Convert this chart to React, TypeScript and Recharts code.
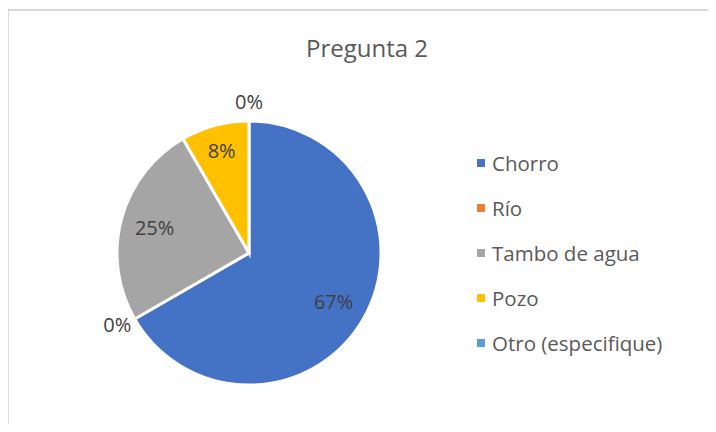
import { PieChart, Pie, Cell, Legend } from "recharts";

const categories = ["Chorro", "Río", "Tambo de agua", "Pozo", "Otro (especifique)"];
const values = [8, 0, 3, 1, 0];
const colors = ["#4472C4", "#ED7D31", "#A5A5A5", "#FFC000", "#5B9BD5"];

const data = categories.map((name, i) => ({ name, value: values[i] }));
const total = values.reduce((a, b) => a + b, 0);

const FONT = "'Open Sans', sans-serif";
const RAD = Math.PI / 180;

function renderLabel(props: any) {
  const { cx, cy, midAngle, outerRadius, value, index } = props;
  // small slices sit a bit further out, like Excel's best fit
  const share = value / total;
  const r = value === 0 ? outerRadius + 20 : outerRadius * (share < 0.1 ? 0.8 : 0.74);
  const x = cx + r * Math.cos(-midAngle * RAD);
  const y = cy + r * Math.sin(-midAngle * RAD) - (value === 0 && index === 1 ? 5 : 0);
  const pct = Math.round(share * 100);
  return (
    <text
      x={x}
      y={y}
      fill="#404040"
      fontSize={20}
      fontFamily={FONT}
      textAnchor="middle"
      dominantBaseline="central"
    >
      {pct}%
    </text>
  );
}

function LegendList() {
  return (
    <div style={{ fontFamily: FONT, fontSize: 20.5, color: "#595959" }}>
      {categories.map((c, i) => (
        <div key={c} style={{ display: "flex", alignItems: "center", height: 45 }}>
          <span
            style={{
              display: "inline-block",
              width: 8,
              height: 8,
              background: colors[i],
              marginRight: 7,
            }}
          />
          <span>{c}</span>
        </div>
      ))}
    </div>
  );
}

export default function App() {
  return (
    <div
      style={{
        position: "relative",
        width: 716,
        height: 432,
        margin: -8,
        overflow: "hidden",
        background: "#fff",
      }}
    >
      <div
        style={{
          position: "absolute",
          left: 7,
          top: 9,
          width: 740,
          height: 460,
          border: "2px solid #d9d9d9",
        }}
      />
      <div
        style={{
          position: "absolute",
          left: 0,
          width: 734,
          top: 31,
          textAlign: "center",
          fontFamily: FONT,
          fontSize: 24,
          color: "#595959",
        }}
      >
        Pregunta 2
      </div>
      <div style={{ position: "absolute", left: 0, top: 0 }}>
        <PieChart width={716} height={432} margin={{ top: 0, right: 0, bottom: 0, left: 0 }}>
          <Pie
            data={data}
            dataKey="value"
            nameKey="name"
            cx={249}
            cy={253}
            outerRadius={132}
            startAngle={90}
            endAngle={-270}
            stroke="#fff"
            strokeWidth={3}
            label={renderLabel}
            labelLine={false}
            isAnimationActive={false}
          >
            {data.map((d, i) => (
              <Cell key={d.name} fill={colors[i]} />
            ))}
          </Pie>
          <Legend
            layout="vertical"
            align="right"
            verticalAlign="top"
            wrapperStyle={{ left: 477, top: 140, width: 230 }}
            content={() => <LegendList />}
          />
        </PieChart>
      </div>
    </div>
  );
}
